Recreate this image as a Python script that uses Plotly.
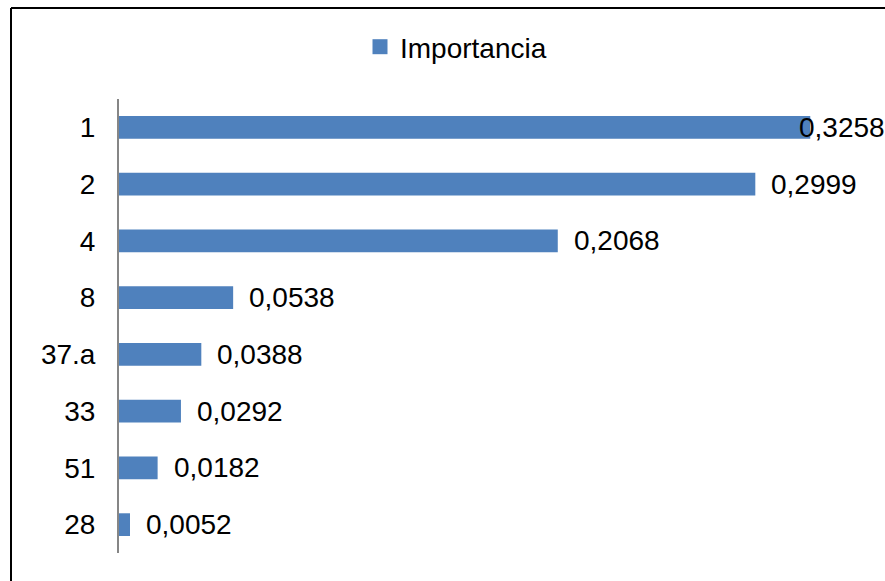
import plotly.graph_objects as go

categories = ["1", "2", "4", "8", "37.a", "33", "51", "28"]
values = [0.3258, 0.2999, 0.2068, 0.0538, 0.0388, 0.0292, 0.0182, 0.0052]
value_labels = ["0,3258", "0,2999", "0,2068", "0,0538", "0,0388", "0,0292", "0,0182", "0,0052"]
series_name = "Importancia"

FONT = "Liberation Sans, Arial, sans-serif"
FS = 28
BAR_COLOR = "#4F81BD"

W, H = 885, 581
ML, MR, MT, MB = 119, 20, 99, 28
pw = W - ML - MR
ph = H - MT - MB

fig = go.Figure()
fig.add_trace(go.Bar(
    y=categories, x=values, orientation="h", name=series_name,
    marker=dict(color=BAR_COLOR, line=dict(width=0)),
    width=0.4, showlegend=False,
))
# legend entry with a larger square swatch
fig.add_trace(go.Scatter(
    x=[None], y=[None], mode="markers", name=series_name,
    marker=dict(symbol="square", size=15, color=BAR_COLOR), showlegend=True,
))

# value labels (positioned by category index); the largest one is pulled back inside the frame
label_shifts = [-13] + [14] * (len(values) - 1)
for i, (v, lab, sh) in enumerate(zip(values, value_labels, label_shifts)):
    fig.add_annotation(x=v, y=i, text=lab, showarrow=False, xanchor="left",
                       yanchor="middle", xshift=sh,
                       font=dict(family=FONT, size=FS, color="#000000"))

# chart frame: left and top edges (right/bottom fall outside the picture)
fx0 = (11 - ML) / pw
fy1 = 1 + (MT - 8) / ph
fig.add_shape(type="line", xref="paper", yref="paper", x0=fx0, x1=fx0,
              y0=-(MB + 20) / ph, y1=fy1, line=dict(color="#000000", width=2))
fig.add_shape(type="line", xref="paper", yref="paper", x0=fx0, x1=(W + 20 - ML) / pw,
              y0=fy1, y1=fy1, line=dict(color="#000000", width=2))

fig.update_layout(
    width=W, height=H,
    margin=dict(l=ML, r=MR, t=MT, b=MB),
    paper_bgcolor="white", plot_bgcolor="white",
    font=dict(family=FONT, size=FS, color="#000000"),
    legend=dict(orientation="h", x=(360 - ML) / pw, xanchor="left",
                y=1 + (MT - 47) / ph, yanchor="middle",
                font=dict(family=FONT, size=FS), bgcolor="rgba(0,0,0,0)",
                itemwidth=30),
    xaxis=dict(range=[0, 0.3516], visible=False, showgrid=False, zeroline=False),
    yaxis=dict(type="category", categoryorder="array", categoryarray=categories,
               range=[len(categories) - 0.5, -0.5], autorange=False,
               showline=True, linecolor="#868686", linewidth=2,
               showgrid=False, zeroline=False, ticks="", ticklabelstandoff=16,
               tickfont=dict(family=FONT, size=FS, color="#000000")),
)

fig.write_html("out.html")
